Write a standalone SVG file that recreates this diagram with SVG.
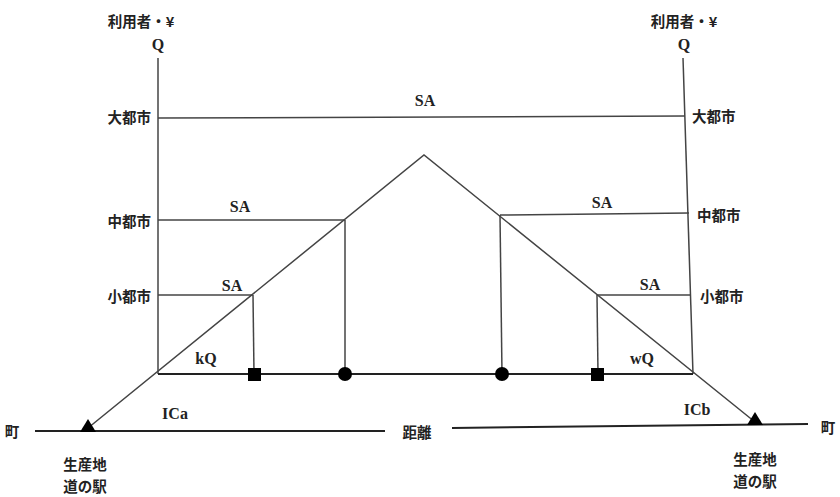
<svg xmlns="http://www.w3.org/2000/svg" width="840" height="497" viewBox="0 0 840 497">
<style>
.ln{stroke:#444;stroke-width:1.5;fill:none}
.thk{stroke:#222;stroke-width:2;fill:none}
.t{font-family:"Liberation Serif","Noto Sans CJK JP",serif;font-weight:bold;font-size:16px;fill:#222}
.j{font-family:"Noto Sans CJK JP",sans-serif;font-weight:bold;font-size:14.5px;fill:#222}
.mk{fill:#000}
</style>
<rect width="840" height="497" fill="#fff"/>
<g id="connectors">
<line class="ln" x1="158" y1="58" x2="158" y2="374"/>
<line class="ln" x1="683" y1="58" x2="693" y2="374"/>
<line class="thk" x1="158" y1="374" x2="693" y2="374"/>
<line class="ln" x1="158" y1="118" x2="685" y2="116"/>
<line class="ln" x1="158" y1="220" x2="345" y2="220"/>
<line class="ln" x1="345" y1="220" x2="345" y2="374"/>
<line class="ln" x1="158" y1="295" x2="253" y2="295"/>
<line class="ln" x1="253" y1="295" x2="254" y2="374"/>
<line class="ln" x1="500" y1="215" x2="689" y2="213"/>
<line class="ln" x1="500" y1="215" x2="502" y2="374"/>
<line class="ln" x1="597" y1="295" x2="690" y2="295"/>
<line class="ln" x1="597" y1="295" x2="598" y2="374"/>
<polyline class="ln" points="88,428 424,155 755,422"/>
<line class="thk" x1="35" y1="431" x2="385" y2="431"/>
<line class="thk" x1="452" y1="428" x2="808" y2="424"/>
</g>
<g id="markers">
<rect class="mk" x="248" y="368" width="13" height="13"/>
<rect class="mk" x="591" y="368" width="13" height="13"/>
<circle class="mk" cx="345" cy="374" r="7"/>
<circle class="mk" cx="502" cy="374" r="7"/>
<polygon class="mk" points="80,432 88,419 96,432"/>
<polygon class="mk" points="747,425 755,412 763,425"/>
</g>
<g id="labels">
<text class="j" x="141" y="27" text-anchor="middle">利用者・¥</text>
<text class="t" x="158" y="50" text-anchor="middle">Q</text>
<text class="j" x="684" y="27" text-anchor="middle">利用者・¥</text>
<text class="t" x="684" y="50" text-anchor="middle">Q</text>
<text class="j" x="151" y="123" text-anchor="end">大都市</text>
<text class="j" x="692" y="122">大都市</text>
<text class="j" x="151" y="227" text-anchor="end">中都市</text>
<text class="j" x="697" y="221">中都市</text>
<text class="j" x="151" y="302" text-anchor="end">小都市</text>
<text class="j" x="700" y="302">小都市</text>
<text class="t" x="425" y="106" text-anchor="middle">SA</text>
<text class="t" x="240" y="212" text-anchor="middle">SA</text>
<text class="t" x="602" y="208" text-anchor="middle">SA</text>
<text class="t" x="232" y="291" text-anchor="middle">SA</text>
<text class="t" x="650" y="290" text-anchor="middle">SA</text>
<text class="t" x="206" y="364" text-anchor="middle">kQ</text>
<text class="t" x="642" y="364" text-anchor="middle">wQ</text>
<text class="t" x="175" y="419" text-anchor="middle">ICa</text>
<text class="t" x="697" y="415" text-anchor="middle">ICb</text>
<text class="j" x="12" y="437" text-anchor="middle">町</text>
<text class="j" x="828" y="433" text-anchor="middle">町</text>
<text class="j" x="417" y="438" text-anchor="middle">距離</text>
<text class="j" x="85" y="470" text-anchor="middle">生産地</text>
<text class="j" x="85" y="492" text-anchor="middle">道の駅</text>
<text class="j" x="755" y="465" text-anchor="middle">生産地</text>
<text class="j" x="755" y="487" text-anchor="middle">道の駅</text>
</g>
</svg>
